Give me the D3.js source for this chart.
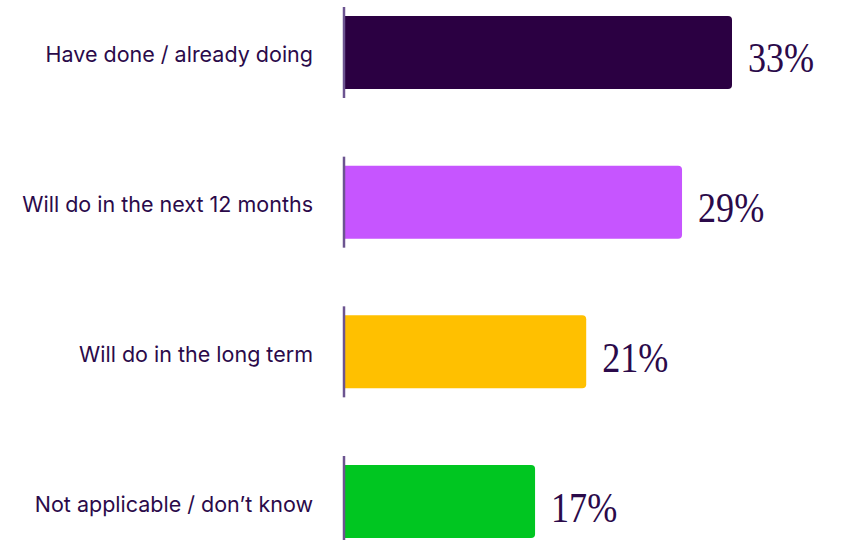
<!DOCTYPE html>
<html>
<head>
<meta charset="utf-8">
<script src="https://cdn.jsdelivr.net/npm/d3@7"></script>
<style>
  body { margin: 0; background: #fff; }
  svg { display: block; }
</style>
</head>
<body>
<script>
var svgWidth = 847;
var svgHeight = 540;

// data
var categories = ["Have done / already doing", "Will do in the next 12 months", "Will do in the long term", "Not applicable / don\u2019t know"];
var values = [33, 28.75, 20.6, 16.25];
var valueLabels = ["33%", "29%", "21%", "17%"];
var colors = ["#2b0042", "#c655ff", "#ffc000", "#00c621"];

var textColor = "#2b0a4a";
var axisX = 344;

var svg = d3.select("body").append("svg")
    .attr("width", svgWidth)
    .attr("height", svgHeight);

// one band per category, the axis tick segment covers the whole band
var y = d3.scaleBand()
    .domain(categories)
    .range([7, 547])
    .paddingInner(0.392)
    .paddingOuter(0);

var x = d3.scaleLinear()
    .domain([0, 33])
    .range([axisX, axisX + 388]);

var barInset = 9;
var r = 4;

function barPath(d, i) {
    var x0 = x(0), x1 = x(values[i]);
    var y0 = y(d) + barInset, y1 = y(d) + y.bandwidth() - barInset;
    return "M" + x0 + "," + y0 +
        "H" + (x1 - r) +
        "Q" + x1 + "," + y0 + " " + x1 + "," + (y0 + r) +
        "V" + (y1 - r) +
        "Q" + x1 + "," + y1 + " " + (x1 - r) + "," + y1 +
        "H" + x0 + "Z";
}

svg.selectAll(".bar")
    .data(categories)
    .enter()
    .append("path")
    .attr("class", "bar")
    .attr("d", barPath)
    .attr("fill", (d, i) => colors[i]);

// axis segments
svg.selectAll(".axis-seg")
    .data(categories)
    .enter()
    .append("line")
    .attr("class", "axis-seg")
    .attr("x1", axisX).attr("x2", axisX)
    .attr("y1", d => y(d))
    .attr("y2", d => y(d) + y.bandwidth())
    .attr("stroke", "#6c5490")
    .attr("stroke-width", 2.5);

// category labels
svg.selectAll(".cat")
    .data(categories)
    .enter()
    .append("text")
    .attr("class", "cat")
    .attr("x", 313)
    .attr("y", d => y(d) + y.bandwidth() / 2 + 10)
    .attr("text-anchor", "end")
    .style("font-family", "Inter, 'Noto Sans', sans-serif")
    .style("font-size", "21.5px")
    .style("fill", textColor)
    .text(d => d);

// value labels
svg.selectAll(".val")
    .data(categories)
    .enter()
    .append("text")
    .attr("class", "val")
    .attr("transform", (d, i) => "translate(" + (x(values[i]) + 16) + "," + (y(d) + y.bandwidth() / 2 + 20) + ") scale(0.86,1)")
    .style("font-family", "'Liberation Serif', 'DejaVu Serif', serif")
    .style("font-size", "42px")
    .style("fill", textColor)
    .text((d, i) => valueLabels[i]);
</script>
</body>
</html>
